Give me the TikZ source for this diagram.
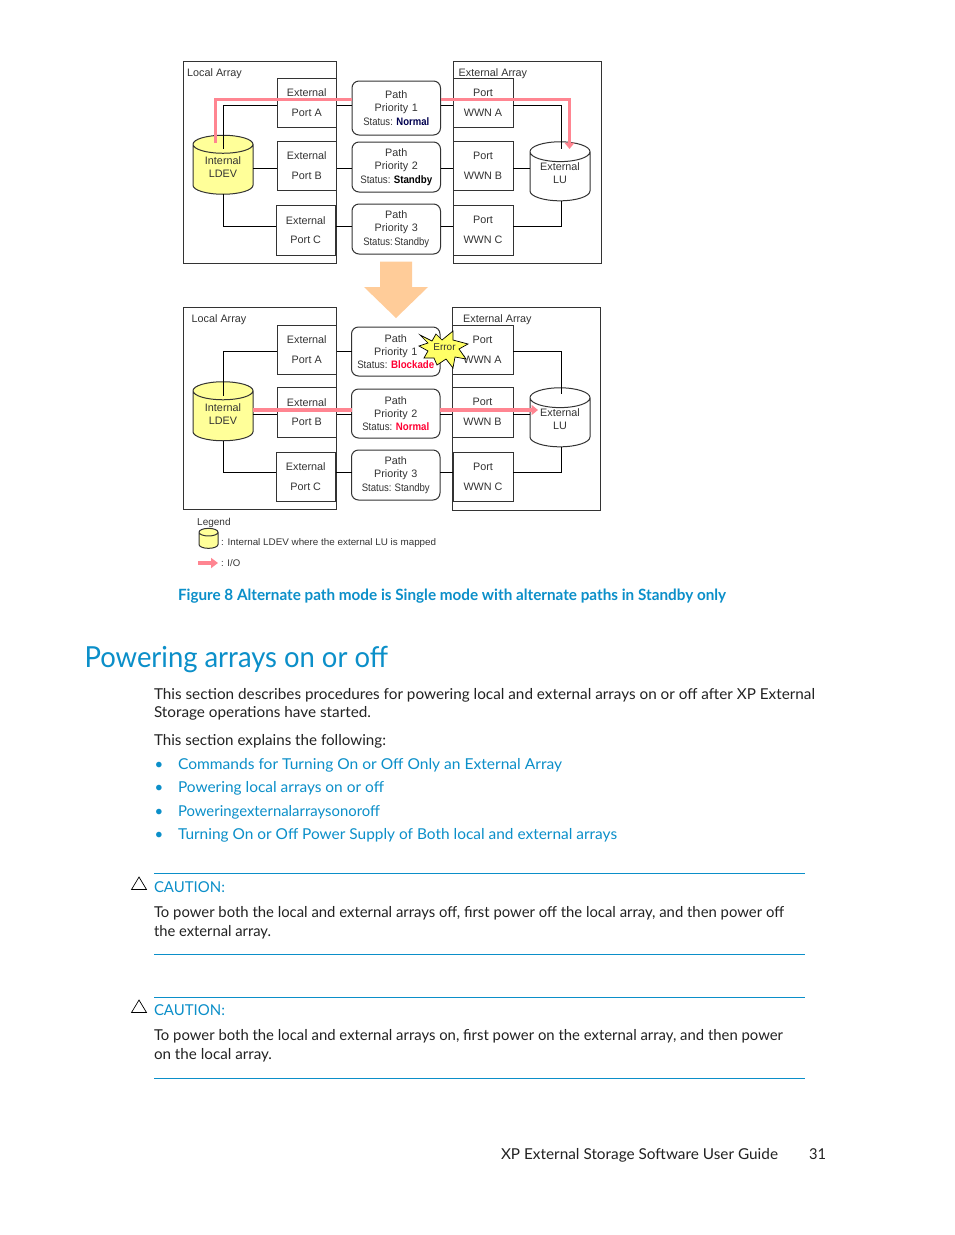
\documentclass[tikz,border=0pt]{standalone}
\usepackage{graphicx}
\usepackage{fontspec}
\setmainfont{Lato}
\newfontfamily\diag{Liberation Sans}
\usetikzlibrary{shapes.geometric,arrows.meta,calc}
\definecolor{hpblue}{HTML}{0B8FC9}
\definecolor{ink}{HTML}{222222}
\definecolor{dline}{HTML}{333333}
\definecolor{iored}{HTML}{FF8591}
\definecolor{alarm}{HTML}{FF0033}
\definecolor{navy}{HTML}{000050}
\definecolor{ldevfill}{HTML}{FFFF99}
\definecolor{burst}{HTML}{FFFF66}
\definecolor{bigarrow}{HTML}{FFCC99}
\newcommand\fitw[2]{\resizebox{#1pt}{\height}{#2}}
\tikzset{
  txt/.style={anchor=base west,inner sep=0pt,outer sep=0pt,text=ink,font=\fontsize{15}{18}\selectfont},
  link/.style={txt,text=hpblue},
  dtxt/.style={font=\diag\fontsize{10.8}{13.3}\selectfont,text=dline,align=center},
  arraybox/.style={draw=dline,line width=1pt,anchor=north west,inner sep=0pt,outer sep=0pt},
  portbox/.style={arraybox,minimum width=59.5pt,dtxt,font=\diag\fontsize{10.8}{19.6}\selectfont},
  pathbox/.style={arraybox,fill=white,rounded corners=7pt,minimum width=88.5pt,dtxt},
  cyl/.style={cylinder,shape border rotate=90,draw=dline,line width=1pt,aspect=.5,minimum width=60pt,minimum height=59pt,inner sep=0pt,outer sep=0pt,dtxt,font=\diag\fontsize{10.8}{13.3}\selectfont},
  wire/.style={draw=black,line width=.8pt},
  io/.style={draw=iored,line width=3.4pt},
  iotip/.style={-{Triangle[length=6.5pt,width=10pt]}},
  rule/.style={draw=hpblue,line width=.7pt},
  caut/.style={draw=black,line width=.7pt,line join=miter},
}
\begin{document}
\begin{tikzpicture}[x=1pt,y=-1pt]
\useasboundingbox (0,0) rectangle (954,1235);
\fill[white] (0,0) rectangle (954,1235);

% ---------- top diagram
\node[arraybox,minimum width=153pt,minimum height=202pt] (la1) at (183,61) {};
\node[arraybox,minimum width=148pt,minimum height=202pt] (ea1) at (453,61) {};
\node[dtxt,anchor=base west,inner sep=0pt] (la1t) at (187,76) {Local Array};
\node[dtxt,anchor=base west,inner sep=0pt] (ea1t) at (458.5,76) {External Array};

\node[portbox,minimum height=49pt] (pa1) at (277,78) {External\\Port A};
\node[portbox,minimum height=49pt] (pb1) at (277,141) {External\\Port B};
\node[portbox,minimum height=50pt] (pc1) at (276,205) {External\\Port C};
\node[portbox,minimum width=60pt,minimum height=49pt] (wa1) at (453,78) {Port\\WWN A};
\node[portbox,minimum width=60pt,minimum height=49pt] (wb1) at (453,141) {Port\\WWN B};
\node[portbox,minimum width=60pt,minimum height=50pt] (wc1) at (453,205) {Port\\WWN C};

\coordinate (ra1) at (0,105);
\coordinate (rb1) at (0,168);
\coordinate (rc1) at (0,226.5);

\node[pathbox,minimum height=54pt] (qa1) at (352,81) {Path\\Priority\,\,1\\\fitw{66}{Status: \textcolor{navy}{\textbf{Normal}}}};
\node[pathbox,minimum height=50pt] (qb1) at (352,142) {Path\\Priority\,\,2\\\fitw{72}{Status:\,\,\textcolor{black}{\textbf{Standby}}}};
\node[pathbox,minimum height=50pt] (qc1) at (352,204) {Path\\Priority\,\,3\\\fitw{66}{Status:\,Standby}};

\node[cyl,fill=ldevfill] (ld1) at (223,169.5) {Internal\\LDEV\\[-9pt]\mbox{}};
\node[cyl,fill=white] (lu1) at (560,176.5) {External\\LU\\[-7pt]\mbox{}};
\coordinate (ld1in) at (223,149);
\coordinate (lu1in) at (561,149);
\coordinate (ld1b) at (223,194);
\coordinate (lu1b) at (561.5,201);

\draw[wire] (ld1in) |- (pa1.west |- ra1);
\draw[wire] (pa1.east |- ra1) -- (qa1.west |- ra1);
\draw[wire] (qa1.east |- ra1) -- (wa1.west |- ra1);
\draw[wire] (wa1.east |- ra1) -| (lu1in);
\draw[wire] (ld1.east |- rb1) -- (pb1.west |- rb1);
\draw[wire] (pb1.east |- rb1) -- (qb1.west |- rb1);
\draw[wire] (qb1.east |- rb1) -- (wb1.west |- rb1);
\draw[wire] (wb1.east |- rb1) -- (lu1.west |- rb1);
\draw[wire] (ld1b) |- (pc1.west |- rc1);
\draw[wire] (pc1.east |- rc1) -- (qc1.west |- rc1);
\draw[wire] (qc1.east |- rc1) -- (wc1.west |- rc1);
\draw[wire] (wc1.east |- rc1) -| (lu1b);

\coordinate (io1s) at (215.5,143);
\coordinate (io1e) at (569.5,149);
\coordinate (io1y) at (0,99.5);
\draw[io] (io1s) |- (qa1.west |- io1y);
\draw[io,iotip] (qa1.east |- io1y) -| (io1e);

% ---------- big arrow
\fill[fill=bigarrow,draw=none] (380,261.5) -- (412,261.5) -- (412,287) -- (428,287) -- (396,318) -- (364,287) -- (380,287) -- cycle;

% ---------- bottom diagram
\node[arraybox,minimum width=153pt,minimum height=202pt] (la2) at (183,307.5) {};
\node[arraybox,minimum width=148pt,minimum height=203pt] (ea2) at (452,307.5) {};
\node[dtxt,anchor=base west,inner sep=0pt] (la2t) at (191.5,322) {Local Array};
\node[dtxt,anchor=base west,inner sep=0pt] (ea2t) at (463,322) {External Array};

\node[portbox,minimum height=49pt] (pa2) at (277,325) {External\\Port A};
\node[portbox,minimum height=50pt] (pb2) at (277,387) {External\\Port B};
\node[portbox,minimum height=49.5pt] (pc2) at (276,452) {External\\Port C};
\node[portbox,minimum width=61pt,minimum height=49pt] (wa2) at (452,325) {Port\\WWN A};
\node[portbox,minimum width=61pt,minimum height=50pt] (wb2) at (452,387) {Port\\WWN B};
\node[portbox,minimum width=60pt,minimum height=49.5pt] (wc2) at (453,452) {Port\\WWN C};

\coordinate (ra2) at (0,351);
\coordinate (rb2) at (0,414.5);
\coordinate (rc2) at (0,472.5);

\node[pathbox,minimum height=49pt] (qa2) at (351.5,327) {Path\\Priority\,\,1\\\fitw{77}{Status: \textcolor{alarm}{\textbf{Blockade}}}};
\node[pathbox,minimum height=49pt] (qb2) at (351.5,389) {Path\\Priority\,\,2\\\fitw{67}{Status: \textcolor{alarm}{\textbf{Normal}}}};
\node[pathbox,minimum height=50pt] (qc2) at (351.5,450) {Path\\Priority\,\,3\\\fitw{68}{Status:\,\,Standby}};

\node[cyl,fill=ldevfill] (ld2) at (223,416) {Internal\\LDEV\\[-9pt]\mbox{}};
\node[cyl,fill=white] (lu2) at (560,422.5) {External\\LU\\[-7pt]\mbox{}};
\coordinate (ld2in) at (223,396);
\coordinate (lu2in) at (561,394);
\coordinate (ld2b) at (223,441);
\coordinate (lu2b) at (561,447);

\draw[wire] (ld2in) |- (pa2.west |- ra2);
\draw[wire] (pa2.east |- ra2) -- (qa2.west |- ra2);
\draw[wire] (qa2.east |- ra2) -- (wa2.west |- ra2);
\draw[wire] (wa2.east |- ra2) -| (lu2in);
\draw[wire] (ld2.east |- rb2) -- (pb2.west |- rb2);
\draw[wire] (pb2.east |- rb2) -- (qb2.west |- rb2);
\draw[wire] (qb2.east |- rb2) -- (wb2.west |- rb2);
\draw[wire] (wb2.east |- rb2) -- (lu2.west |- rb2);
\draw[wire] (ld2b) |- (pc2.west |- rc2);
\draw[wire] (pc2.east |- rc2) -- (qc2.west |- rc2);
\draw[wire] (qc2.east |- rc2) -- (wc2.west |- rc2);
\draw[wire] (wc2.east |- rc2) -| (lu2b);

\coordinate (io2y) at (0,410);
\coordinate (io2e) at (538,410);
\draw[io] (ld2.east |- io2y) -- (qb2.west |- io2y);
\draw[io,iotip] (qb2.east |- io2y) -- (io2e);

% ---------- error burst
\filldraw[draw=black,line width=.7pt,fill=burst]
  (420,335) -- (432,341) -- (436,334) -- (442,340) -- (453,331) -- (453,340) -- (468,344)
  -- (459,349) -- (466,359) -- (455,357) -- (453,368) -- (446,359) -- (437,365) -- (434,358)
  -- (424,358) -- (428,351) -- (419,346) -- (428,343) -- cycle;
\node[dtxt,font=\diag\fontsize{10}{12}\selectfont,inner sep=0pt] (err) at (444.5,347) {Error};

% ---------- legend
\node[dtxt,anchor=base west,font=\diag\fontsize{10}{12}\selectfont,inner sep=0pt] (legt) at (197,525) {Legend};
\node[cyl,fill=ldevfill,minimum width=19pt,minimum height=20pt,aspect=.45] (legc) at (208.5,540.5) {\rule{0pt}{5pt}\hspace{17pt}};
\node[dtxt,anchor=base west,inner sep=0pt,font=\diag\fontsize{9.6}{12}\selectfont] (legl) at (221,545) {\fitw{215}{: Internal LDEV where the external LU is mapped}};
\coordinate (lega) at (198,563);
\coordinate (legb) at (218,563);
\draw[io,-{Triangle[length=7pt,width=10pt]}] (lega) -- (legb);
\node[dtxt,anchor=base west,inner sep=0pt,font=\diag\fontsize{9.6}{12}\selectfont] (legi) at (221,566) {: I/O};

% ---------- page text
\node[link,font=\bfseries\fontsize{15.5}{18}\selectfont] (cap) at (178,600) {\fitw{548}{Figure 8 Alternate path mode is Single mode with alternate paths in Standby only}};
\node[link,font=\fontsize{29}{32}\selectfont] (head) at (84.5,667) {\fitw{303.5}{Powering arrays on or off}};
\node[txt] (b1) at (154,699) {\fitw{661}{This section describes procedures for powering local and external arrays on or off after XP External}};
\node[txt] (b2) at (154,717) {\fitw{217}{Storage operations have started.}};
\node[txt] (b3) at (154,745) {\fitw{232}{This section explains the following:}};
\foreach \yy/\nm in {769/d1,792/d2,816/d3,839/d4}
  \node[link] (\nm) at (154.5,\yy) {•};
\node[link] (l1) at (178,769) {\fitw{384}{Commands for Turning On or Off Only an External Array}};
\node[link] (l2) at (178,792) {\fitw{206}{Powering local arrays on or off}};
\node[link] (l3) at (178,816) {\fitw{202}{Poweringexternalarraysonoroff}};
\node[link] (l4) at (178,839) {\fitw{439}{Turning On or Off Power Supply of Both local and external arrays}};

\coordinate (r1a) at (154,873.5); \coordinate (r1b) at (805,873.5);
\coordinate (r2a) at (154,954.5); \coordinate (r2b) at (805,954.5);
\coordinate (r3a) at (154,997.5); \coordinate (r3b) at (805,997.5);
\coordinate (r4a) at (154,1078.5); \coordinate (r4b) at (805,1078.5);
\draw[rule] (r1a) -- (r1b);
\draw[rule] (r2a) -- (r2b);
\draw[rule] (r3a) -- (r3b);
\draw[rule] (r4a) -- (r4b);

\draw[caut] (131.5,889.5) -- (139,877) -- (146.5,889.5) -- cycle;
\node[link] (c1) at (154,892) {\fitw{71}{CAUTION:}};
\node[txt] (c1a) at (154,917) {\fitw{630}{To power both the local and external arrays off, first power off the local array, and then power off}};
\node[txt] (c1b) at (154,936) {\fitw{117}{the external array.}};

\draw[caut] (131.5,1012.5) -- (139,1000) -- (146.5,1012.5) -- cycle;
\node[link] (c2) at (154,1015) {\fitw{71}{CAUTION:}};
\node[txt] (c2a) at (154,1040) {\fitw{629}{To power both the local and external arrays on, first power on the external array, and then power}};
\node[txt] (c2b) at (154,1059) {\fitw{118}{on the local array.}};

\node[txt] (f1) at (501,1159) {\fitw{277}{XP External Storage Software User Guide}};
\node[txt] (f2) at (809,1159) {\fitw{17}{31}};
\end{tikzpicture}
\end{document}
